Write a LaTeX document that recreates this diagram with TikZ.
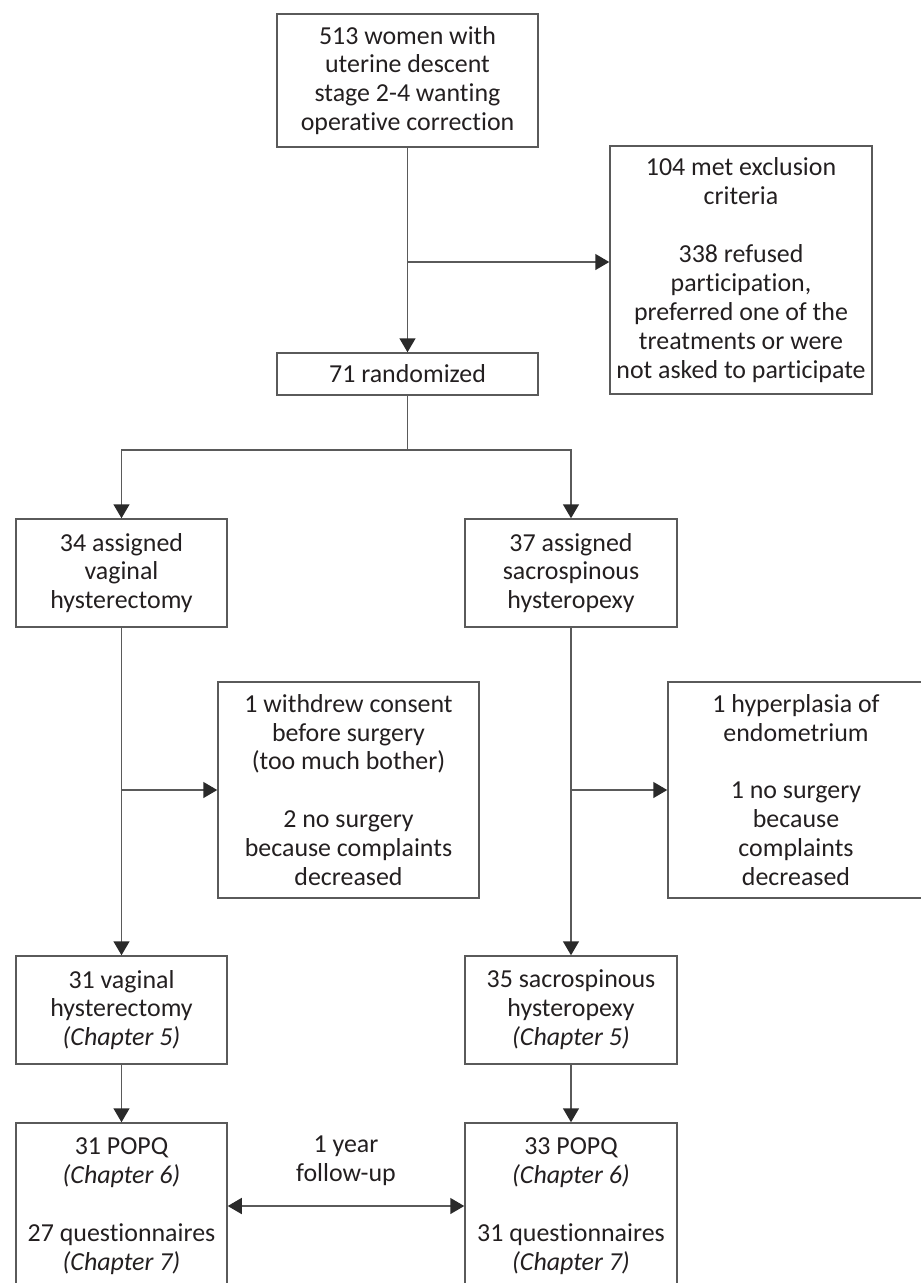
\documentclass[tikz,border=0pt]{standalone}
\usepackage{fontspec}
\setmainfont{Carlito}[Ligatures={NoCommon}]
\usetikzlibrary{arrows.meta}
\definecolor{linegray}{HTML}{5A5A5A}
\definecolor{textdark}{HTML}{231F20}
\definecolor{tipdark}{HTML}{2A2A2A}
\begin{document}
\begin{tikzpicture}[x=1bp,y=-1bp,
  box/.style={draw=linegray, line width=1.5bp, rectangle, align=center,
    inner sep=0pt, text=textdark, font=\fontsize{26}{29}\selectfont},
  lbl/.style={align=center, inner sep=0pt, text=textdark, font=\fontsize{26}{29}\selectfont},
  conn/.style={draw=linegray, line width=1.5bp},
  arr/.style={conn, -{Triangle[length=14bp,width=16bp,color=tipdark]}},
  arrtwo/.style={conn, {Triangle[length=14bp,width=16bp,color=tipdark]}-{Triangle[length=14bp,width=16bp,color=tipdark]}}]
\useasboundingbox (0,0) rectangle (921,1283);

\node[box, minimum width=261bp, minimum height=133bp] (top) at (407.5,80.5)
  {513 women with\\uterine descent\\stage 2-4 wanting\\operative correction};
\node[box, minimum width=262bp, minimum height=248bp] (excl) at (741,270)
  {104 met exclusion\\criteria\\[29bp]338 refused\\participation,\\preferred one of the\\treatments or were\\not asked to participate};
\node[box, minimum width=261bp, minimum height=42bp] (rand) at (407.5,374)
  {71 randomized};

\node[box, minimum width=211bp, minimum height=108bp] (va) at (121.5,573)
  {34 assigned\\vaginal\\hysterectomy};
\node[box, minimum width=212bp, minimum height=108bp] (sa) at (571,573)
  {37 assigned\\sacrospinous\\hysteropexy};

\node[box, minimum width=261bp, minimum height=216bp] (wd) at (348.5,790)
  {1 withdrew consent\\before surgery\\(too much bother)\\[29bp]2 no surgery\\because complaints\\decreased};
\node[box, minimum width=256bp, minimum height=216bp] (hp) at (796,790)
  {1 hyperplasia of\\endometrium\\[29bp]1 no surgery\\because\\complaints\\decreased};

\node[box, minimum width=211bp, minimum height=108bp] (vh) at (121.5,1010)
  {31 vaginal\\hysterectomy\\\textit{(Chapter 5)}};
\node[box, minimum width=212bp, minimum height=108bp] (sh) at (571,1010)
  {35 sacrospinous\\hysteropexy\\\textit{(Chapter 5)}};

\node[box, minimum width=211bp, minimum height=166bp] (pl) at (121.5,1206)
  {31 POPQ\\\textit{(Chapter 6)}\\[29bp]27 questionnaires\\\textit{(Chapter 7)}};
\node[box, minimum width=212bp, minimum height=166bp] (pr) at (571,1206)
  {33 POPQ\\\textit{(Chapter 6)}\\[29bp]31 questionnaires\\\textit{(Chapter 7)}};

\node[lbl] (fu) at (346,1161) {1 year\\follow-up};

% connectors
\draw[arr] (top.south) -- (rand.north);
\coordinate (b1) at (407.5,262);
\draw[arr] (b1) -- (b1 -| excl.west);

\coordinate (split) at (407.5,450);
\draw[conn] (rand.south) -- (split);
\draw[arr] (split) -| (va.north);
\draw[arr] (split) -| (sa.north);

\draw[arr] (va.south) -- (vh.north);
\coordinate (bl) at (121.5,790);
\draw[arr] (bl) -- (bl -| wd.west);

\draw[arr] (sa.south) -- (sh.north);
\coordinate (br) at (571,790);
\draw[arr] (br) -- (br -| hp.west);

\draw[arr] (vh.south) -- (pl.north);
\draw[arr] (sh.south) -- (pr.north);

\coordinate (fy) at (346,1206);
\draw[arrtwo] (fy -| pl.east) -- (fy -| pr.west);
\end{tikzpicture}
\end{document}
